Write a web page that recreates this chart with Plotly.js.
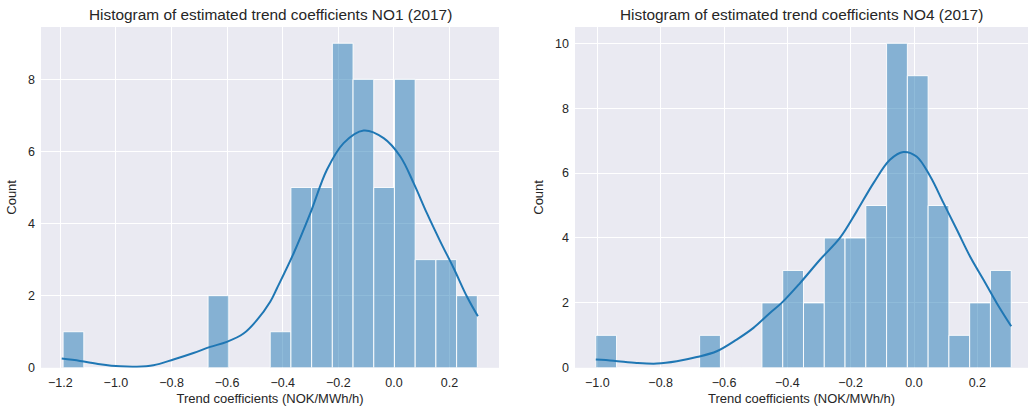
<!DOCTYPE html>
<html>
<head>
<meta charset="utf-8">
<script src="https://cdn.plot.ly/plotly-3.0.1.min.js"></script>
<style>html,body{margin:0;padding:0;background:#fff;}#chart{width:1028px;height:408px;}</style>
</head>
<body>
<div id="chart"></div>
<script>
// ---- NO1 (left) ----
const no1BinStart = -1.19;
const no1BinWidth = 0.0745;
const no1Counts = [1,0,0,0,0,0,0,2,0,0,1,5,5,9,8,5,8,3,3,2];
const no1KdeX = [-1.195,-1.129,-1.057,-0.985,-0.925,-0.865,-0.793,-0.721,-0.661,-0.601,-0.541,-0.493,-0.445,-0.421,-0.361,-0.301,-0.241,-0.181,-0.109,-0.037,0.023,0.071,0.119,0.167,0.215,0.263,0.302];
const no1KdeY = [0.255,0.19,0.10,0.04,0.03,0.07,0.23,0.41,0.58,0.72,0.95,1.32,1.83,2.2,3.17,4.28,5.49,6.23,6.58,6.37,5.86,5.12,4.28,3.5,2.76,1.97,1.43];

// ---- NO4 (right) ----
const no4BinStart = -1.005;
const no4BinWidth = 0.0656;
const no4Counts = [1,0,0,0,0,1,0,0,2,3,2,4,4,5,10,9,5,1,2,3];
const no4KdeX = [-1.005,-0.949,-0.876,-0.812,-0.749,-0.686,-0.623,-0.56,-0.507,-0.455,-0.418,-0.36,-0.297,-0.234,-0.181,-0.128,-0.076,-0.034,0.008,0.051,0.093,0.135,0.177,0.219,0.261,0.307];
const no4KdeY = [0.255,0.22,0.15,0.13,0.2,0.33,0.51,0.87,1.23,1.69,2.0,2.61,3.33,4.0,4.82,5.69,6.41,6.65,6.51,5.9,5.08,4.26,3.43,2.72,2.0,1.28];

const titles = ["Histogram of estimated trend coefficients NO1 (2017)", "Histogram of estimated trend coefficients NO4 (2017)"];
const xLabel = "Trend coefficients (NOK/MWh/h)";
const yLabel = "Count";
const no1XTicks = [-1.2,-1.0,-0.8,-0.6,-0.4,-0.2,0.0,0.2];
const no4XTicks = [-1.0,-0.8,-0.6,-0.4,-0.2,0.0,0.2];
const no1YTicks = [0,2,4,6,8];
const no4YTicks = [0,2,4,6,8,10];

function centers(start, w, n){ const a=[]; for(let i=0;i<n;i++) a.push(start + w*(i+0.5)); return a; }
function fmt(v){ const s = Math.abs(v).toFixed(1); return (v < -1e-9 ? "\u2212" : "") + s; }

const barColor = "rgba(31,119,180,0.5)";
const lineColor = "#1f77b4";
const textColor = "#262626";
const font = "Liberation Sans, Arial, sans-serif";
const tickSize = 12.5, labelSize = 13, titleSize = 15.4;

const traces = [
  {type:"bar", x:centers(no1BinStart,no1BinWidth,no1Counts.length), y:no1Counts, width:no1BinWidth,
   marker:{color:barColor, line:{color:"rgba(255,255,255,0.9)", width:1}}, xaxis:"x", yaxis:"y", hoverinfo:"x+y"},
  {type:"scatter", mode:"lines", x:no1KdeX, y:no1KdeY, line:{color:lineColor, width:2, shape:"spline", smoothing:1}, xaxis:"x", yaxis:"y"},
  {type:"bar", x:centers(no4BinStart,no4BinWidth,no4Counts.length), y:no4Counts, width:no4BinWidth,
   marker:{color:barColor, line:{color:"rgba(255,255,255,0.9)", width:1}}, xaxis:"x2", yaxis:"y2", hoverinfo:"x+y"},
  {type:"scatter", mode:"lines", x:no4KdeX, y:no4KdeY, line:{color:lineColor, width:2, shape:"spline", smoothing:1}, xaxis:"x2", yaxis:"y2"}
];

const axisCommon = {
  showgrid:true, gridcolor:"#ffffff", gridwidth:1, zeroline:false, showline:false, ticks:"",
  tickfont:{family:font, size:tickSize, color:textColor}, fixedrange:true
};
const yDomain = [1-367.8/408, 1-27/408];

const layout = {
  width:1028, height:408, margin:{l:0,r:0,t:0,b:0},
  paper_bgcolor:"#ffffff", plot_bgcolor:"#EAEAF2",
  showlegend:false, bargap:0,
  font:{family:font, color:textColor},
  xaxis: Object.assign({}, axisCommon, {domain:[41/1028, 499/1028], range:[-1.2695, 0.378],
    tickmode:"array", tickvals:no1XTicks, ticktext:no1XTicks.map(fmt), ticklabelstandoff:6,
    title:{text:xLabel, font:{family:font, size:labelSize, color:textColor}, standoff:4}, anchor:"y"}),
  yaxis: Object.assign({}, axisCommon, {domain:yDomain, range:[0, 9.45],
    tickmode:"array", tickvals:no1YTicks, ticktext:no1YTicks.map(String), ticklabelstandoff:5,
    title:{text:yLabel, font:{family:font, size:labelSize, color:textColor}, standoff:8}, anchor:"x"}),
  xaxis2: Object.assign({}, axisCommon, {domain:[575/1028, 1], range:[-1.0706, 0.36],
    tickmode:"array", tickvals:no4XTicks, ticktext:no4XTicks.map(fmt), ticklabelstandoff:6,
    title:{text:xLabel, font:{family:font, size:labelSize, color:textColor}, standoff:4}, anchor:"y2"}),
  yaxis2: Object.assign({}, axisCommon, {domain:yDomain, range:[0, 10.5],
    tickmode:"array", tickvals:no4YTicks, ticktext:no4YTicks.map(String), ticklabelstandoff:5,
    title:{text:yLabel, font:{family:font, size:labelSize, color:textColor}, standoff:8}, anchor:"x2"}),
  annotations:[
    {text:titles[0], xref:"paper", yref:"paper", x:(41+499)/2/1028, y:1-14.5/408, xanchor:"center", yanchor:"middle",
     showarrow:false, font:{family:font, size:titleSize, color:textColor}},
    {text:titles[1], xref:"paper", yref:"paper", x:(575+1028)/2/1028, y:1-14.5/408, xanchor:"center", yanchor:"middle",
     showarrow:false, font:{family:font, size:titleSize, color:textColor}}
  ]
};

Plotly.newPlot("chart", traces, layout, {staticPlot:true, displayModeBar:false});
</script>
</body>
</html>
